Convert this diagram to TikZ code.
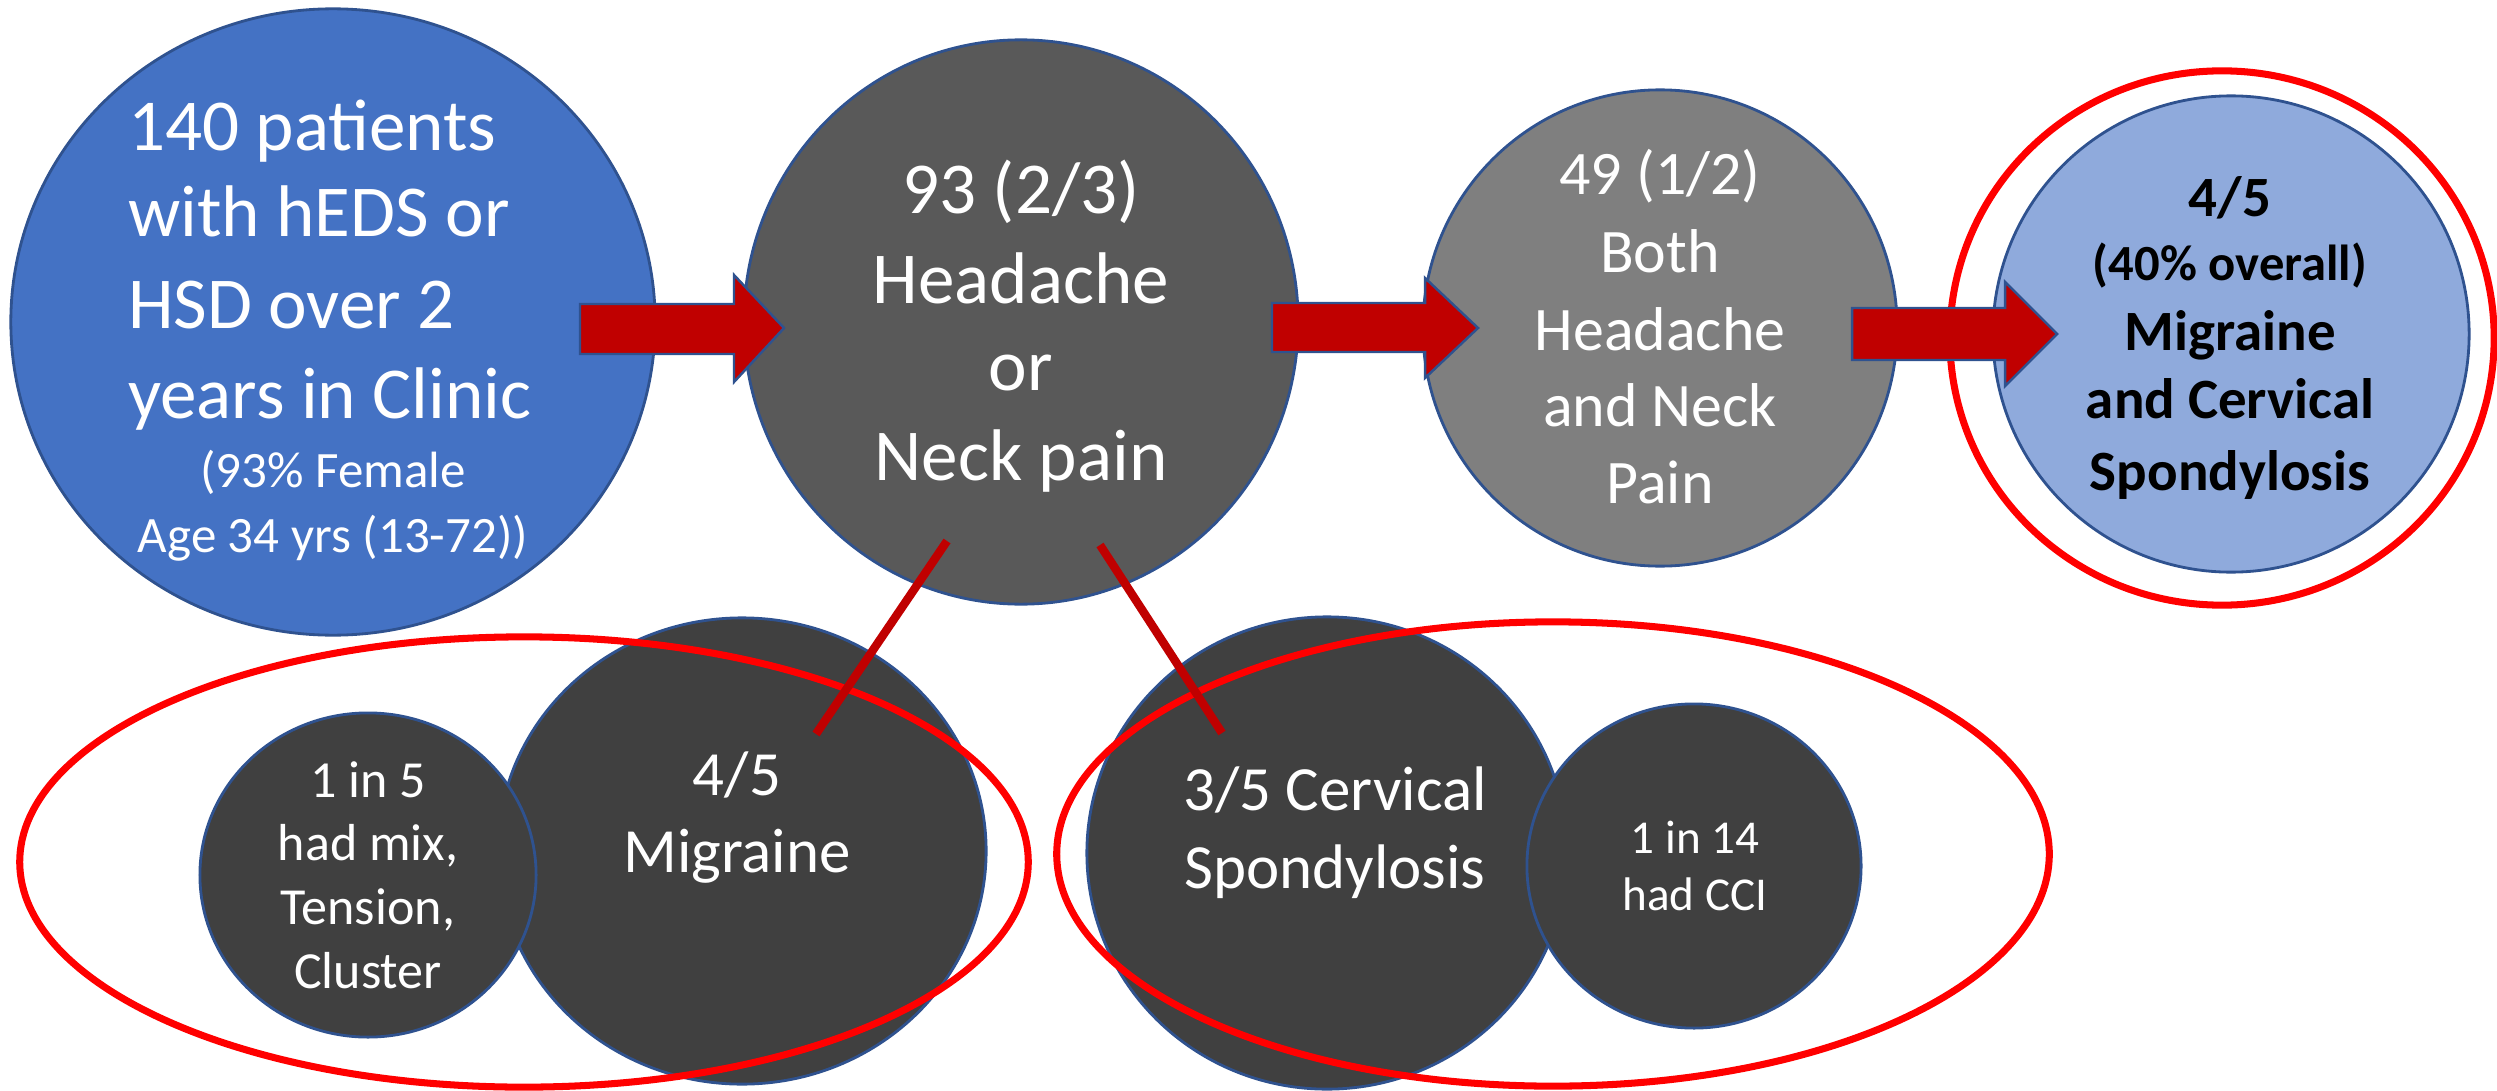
\documentclass[tikz,border=0pt]{standalone}
\usepackage{fontspec}
\setmainfont{Carlito}
\usetikzlibrary{shapes.geometric}
\definecolor{cblue}{HTML}{4472C4}
\definecolor{cdark}{HTML}{595959}
\definecolor{cgray}{HTML}{7F7F7F}
\definecolor{clight}{HTML}{8FAADC}
\definecolor{cdeep}{HTML}{404040}
\definecolor{carrow}{HTML}{C00000}
\definecolor{cedge}{HTML}{2F528F}
\definecolor{cring}{HTML}{FF0000}
\begin{document}
\begin{tikzpicture}[x=0.01cm,y=-0.01cm,
  disc/.style={ellipse, draw=cedge, line width=0.8pt, inner sep=0pt, outer sep=0pt},
  ring/.style={ellipse, draw=cring, line width=2pt, inner sep=0pt, fill=none},
  blockarrow/.style={fill=carrow, draw=cedge, line width=0.7pt, line join=miter},
  link/.style={draw=carrow, line width=2.4pt, line cap=butt},
  wt/.style={text=white, inner sep=0pt, outer sep=0pt, anchor=base},
  bt/.style={text=black, inner sep=0pt, outer sep=0pt, anchor=base, font=\bfseries},
  fA/.style={font=\fontsize{20.8}{25}\selectfont},
  fB/.style={font=\fontsize{14.5}{17}\selectfont},
  fC/.style={font=\fontsize{17.6}{21}\selectfont},
  fD/.style={font=\fontsize{16.2}{19}\selectfont\bfseries},
  fE/.style={font=\fontsize{14.4}{17}\selectfont\bfseries},
  fF/.style={font=\fontsize{14.8}{18}\selectfont},
  fG/.style={font=\fontsize{17.9}{21}\selectfont},
  fH/.style={font=\fontsize{13.4}{16}\selectfont}]
\useasboundingbox (0,0) rectangle (2497,1091);

% top row ellipses
\node[disc, fill=cblue, minimum width=6.44cm, minimum height=6.26cm] (pop) at (333,322) {};
\node[disc, fill=cdark, minimum width=5.54cm, minimum height=5.64cm] (hn) at (1021,322) {};
\node[disc, fill=cgray, minimum width=4.74cm, minimum height=4.76cm] (both) at (1660,328) {};
\node[disc, fill=clight, minimum width=4.76cm, minimum height=4.76cm] (mcs) at (2231,334) {};
\node[ring, minimum width=5.44cm, minimum height=5.34cm] (mcsring) at (2222,338) {};

% block arrows
\path[blockarrow] (580,304) -- (734,304) -- (734,275) -- (784,328) -- (734,382) -- (734,354) -- (580,354) -- cycle;
\path[blockarrow] (1272,303) -- (1425,303) -- (1425,278) -- (1478,328) -- (1425,378) -- (1425,352) -- (1272,352) -- cycle;
\path[blockarrow] (1852,308) -- (2005,308) -- (2005,282) -- (2057,334) -- (2005,386) -- (2005,360) -- (1852,360) -- cycle;

% bottom ellipses
\node[disc, fill=cdeep, minimum width=4.88cm, minimum height=4.66cm] (mig) at (742,851) {};
\node[disc, fill=cdeep, minimum width=3.36cm, minimum height=3.24cm] (mix) at (368,875) {};
\node[disc, fill=cdeep, minimum width=4.80cm, minimum height=4.72cm] (cs) at (1327,853) {};
\node[disc, fill=cdeep, minimum width=3.34cm, minimum height=3.24cm] (cci) at (1694,866) {};
\node[ring, minimum width=10.08cm, minimum height=4.50cm] (leftring) at (524,862) {};
\node[ring, minimum width=9.92cm, minimum height=4.64cm] (rightring) at (1553,854) {};

% links
\coordinate (l1a) at (947,541);
\coordinate (l1b) at (816,734);
\coordinate (l2a) at (1100,545);
\coordinate (l2b) at (1222,733);
\draw[link] (l1a) -- (l1b);
\draw[link] (l2a) -- (l2b);

% texts: population
\node[wt, fA, anchor=base west] (t1) at (128,150) {140 patients};
\node[wt, fA, anchor=base west] (t2) at (128,237) {with hEDS or};
\node[wt, fA, anchor=base west] (t3) at (128,328) {HSD over 2};
\node[wt, fA, anchor=base west] (t4) at (128,418) {years in Clinic};
\node[wt, fB] (t5) at (333,487) {(93\% Female};
\node[wt, fB] (t6) at (333,552) {Age 34 yrs (13-72))};

% headache or neck pain
\node[wt, fA] (h1) at (1021,213) {93 (2/3)};
\node[wt, fA] (h2) at (1021,303) {Headache};
\node[wt, fA] (h3) at (1021,390) {or};
\node[wt, fA] (h4) at (1021,480) {Neck pain};

% both
\node[wt, fC] (b1) at (1660,195) {49 (1/2)};
\node[wt, fC] (b2) at (1660,272) {Both};
\node[wt, fC] (b3) at (1660,350) {Headache};
\node[wt, fC] (b4) at (1660,426) {and Neck};
\node[wt, fC] (b5) at (1660,503) {Pain};

% migraine and cervical spondylosis
\node[bt, fD] (m1) at (2230,217) {4/5};
\node[bt, fE] (m2) at (2230,280) {(40\% overall)};
\node[bt, fD] (m3) at (2230,350) {Migraine};
\node[bt, fD] (m4) at (2230,418) {and Cervical};
\node[bt, fD] (m5) at (2230,490) {Spondylosis};

% 1 in 5
\node[wt, fF] (x1) at (368,797) {1 in 5};
\node[wt, fF] (x2) at (368,860) {had mix,};
\node[wt, fF] (x3) at (368,924) {Tension,};
\node[wt, fF] (x4) at (368,988) {Cluster};

% migraine
\node[wt, fG] (g1) at (737,795) {4/5};
\node[wt, fG] (g2) at (737,872) {Migraine};

% cervical spondylosis
\node[wt, fG] (c1) at (1335,810) {3/5 Cervical};
\node[wt, fG] (c2) at (1335,888) {Spondylosis};

% 1 in 14
\node[wt, fH] (k1) at (1695,853) {1 in 14};
\node[wt, fH] (k2) at (1695,910) {had CCI};
\end{tikzpicture}
\end{document}
